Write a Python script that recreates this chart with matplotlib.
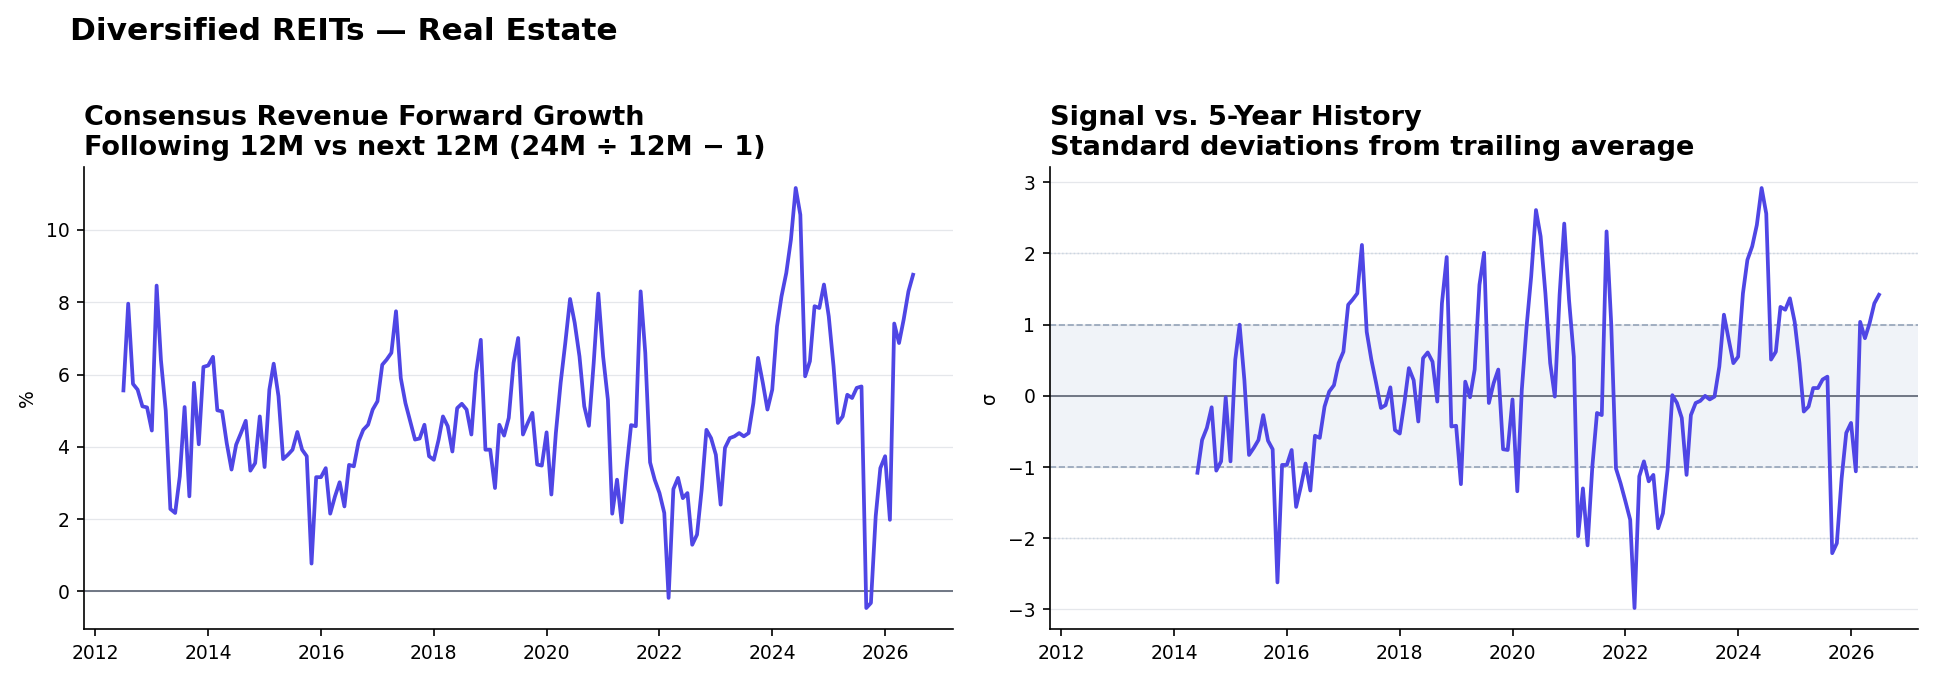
import numpy as np
import pandas as pd
import matplotlib
matplotlib.use("Agg")
import matplotlib.pyplot as plt

# Monthly data, 2012-07 .. 2026-07
dates = pd.date_range("2012-07-01", "2026-07-01", freq="MS")

# Consensus revenue forward growth (%)
growth = [
    5.56, 7.96, 5.74, 5.58, 5.12, 5.09, 4.45, 8.46, 6.40, 5.00,
    2.28, 2.17, 3.18, 5.10, 2.63, 5.77, 4.07, 6.21, 6.25, 6.49,
    5.01, 4.98, 4.10, 3.37, 4.06, 4.38, 4.72, 3.34, 3.55, 4.84,
    3.44, 5.58, 6.30, 5.40, 3.66, 3.78, 3.92, 4.41, 3.92, 3.74,
    0.77, 3.16, 3.16, 3.41, 2.15, 2.63, 3.02, 2.35, 3.50, 3.46,
    4.15, 4.47, 4.61, 5.03, 5.26, 6.27, 6.41, 6.60, 7.75, 5.90,
    5.21, 4.70, 4.20, 4.23, 4.61, 3.74, 3.64, 4.20, 4.84, 4.57,
    3.87, 5.07, 5.19, 5.03, 4.34, 6.04, 6.96, 3.92, 3.92, 2.86,
    4.61, 4.31, 4.80, 6.32, 7.01, 4.34, 4.66, 4.94, 3.51, 3.48,
    4.40, 2.68, 4.38, 5.77, 6.87, 8.09, 7.43, 6.50, 5.12, 4.58,
    6.32, 8.24, 6.50, 5.30, 2.15, 3.09, 1.91, 3.37, 4.60, 4.57,
    8.30, 6.60, 3.57, 3.09, 2.72, 2.17, -0.18, 2.83, 3.14, 2.58,
    2.72, 1.29, 1.57, 2.81, 4.47, 4.24, 3.78, 2.40, 3.97, 4.24,
    4.29, 4.38, 4.29, 4.38, 5.21, 6.46, 5.77, 5.03, 5.58, 7.33,
    8.16, 8.81, 9.73, 11.16, 10.42, 5.95, 6.37, 7.89, 7.84, 8.49,
    7.61, 6.23, 4.66, 4.84, 5.44, 5.35, 5.63, 5.67, -0.46, -0.32,
    2.08, 3.41, 3.74, 1.98, 7.41, 6.87, 7.52, 8.30, 8.76,
]

# Z-score vs trailing 5-year history, 2014-06 .. 2026-07
z_dates = pd.date_range("2014-06-01", "2026-07-01", freq="MS")
zscore = [
    -1.08, -0.62, -0.45, -0.16, -1.05, -0.92, -0.02, -0.92, 0.51, 1.00,
    0.22, -0.83, -0.73, -0.62, -0.27, -0.63, -0.75, -2.62, -0.97, -0.97,
    -0.76, -1.56, -1.27, -0.95, -1.33, -0.56, -0.59, -0.15, 0.06, 0.15,
    0.46, 0.62, 1.28, 1.35, 1.44, 2.12, 0.90, 0.51, 0.18, -0.17,
    -0.13, 0.12, -0.48, -0.53, -0.08, 0.39, 0.22, -0.36, 0.53, 0.61,
    0.48, -0.08, 1.30, 1.95, -0.43, -0.42, -1.24, 0.20, -0.02, 0.37,
    1.56, 2.01, -0.10, 0.18, 0.37, -0.75, -0.76, -0.05, -1.34, 0.08,
    0.97, 1.68, 2.61, 2.24, 1.44, 0.46, -0.01, 1.42, 2.42, 1.35,
    0.55, -1.97, -1.30, -2.10, -0.99, -0.24, -0.27, 2.31, 1.02, -1.02,
    -1.23, -1.48, -1.74, -2.98, -1.13, -0.92, -1.20, -1.11, -1.86, -1.65,
    -1.04, 0.01, -0.10, -0.31, -1.11, -0.27, -0.10, -0.07, 0.00, -0.05,
    -0.01, 0.41, 1.14, 0.79, 0.46, 0.55, 1.44, 1.91, 2.10, 2.40,
    2.92, 2.56, 0.51, 0.62, 1.25, 1.21, 1.37, 1.04, 0.46, -0.22,
    -0.15, 0.11, 0.11, 0.23, 0.27, -2.21, -2.07, -1.16, -0.52, -0.38,
    -1.06, 1.04, 0.81, 1.02, 1.30, 1.42,
]

line_color = "#4F46E5"

fig, (ax1, ax2) = plt.subplots(1, 2, figsize=(12.893, 4.527), dpi=150, sharex=True)
fig.subplots_adjust(left=0.0434, right=0.992, bottom=0.0736, top=0.754, wspace=0.112)

# Left: forward growth
ax1.grid(axis="y", color="#e5e7eb", lw=0.6)
ax1.axhline(0, color="#6b7280", lw=0.9)
ax1.plot(dates, growth, color=line_color, lw=1.8)
ax1.set_ylabel("%", fontsize=9)
ax1.set_title("Consensus Revenue Forward Growth\nFollowing 12M vs next 12M (24M ÷ 12M − 1)",
              loc="left", fontsize=13, fontweight="bold")

# Right: z-score
ax2.axhspan(-1, 1, color="#f0f3f8", zorder=0)
ax2.grid(axis="y", color="#e5e7eb", lw=0.6)
for lvl in (-2, 2):
    ax2.axhline(lvl, color="#cbd5e1", lw=0.7, ls=":")
for lvl in (-1, 1):
    ax2.axhline(lvl, color="#94a3b8", lw=0.8, ls="--")
ax2.axhline(0, color="#6b7280", lw=0.9)
ax2.plot(z_dates, zscore, color=line_color, lw=1.8)
ax2.set_ylabel("σ", fontsize=9)
ax2.set_title("Signal vs. 5-Year History\nStandard deviations from trailing average",
              loc="left", fontsize=13, fontweight="bold")

for ax in (ax1, ax2):
    ax.spines["top"].set_visible(False)
    ax.spines["right"].set_visible(False)
    ax.tick_params(labelsize=9)
    ax.set_axisbelow(True)

fig.suptitle("Diversified REITs — Real Estate", x=0.036, y=0.975, ha="left",
             fontsize=15, fontweight="bold")

fig.savefig("out.png", dpi=150)
